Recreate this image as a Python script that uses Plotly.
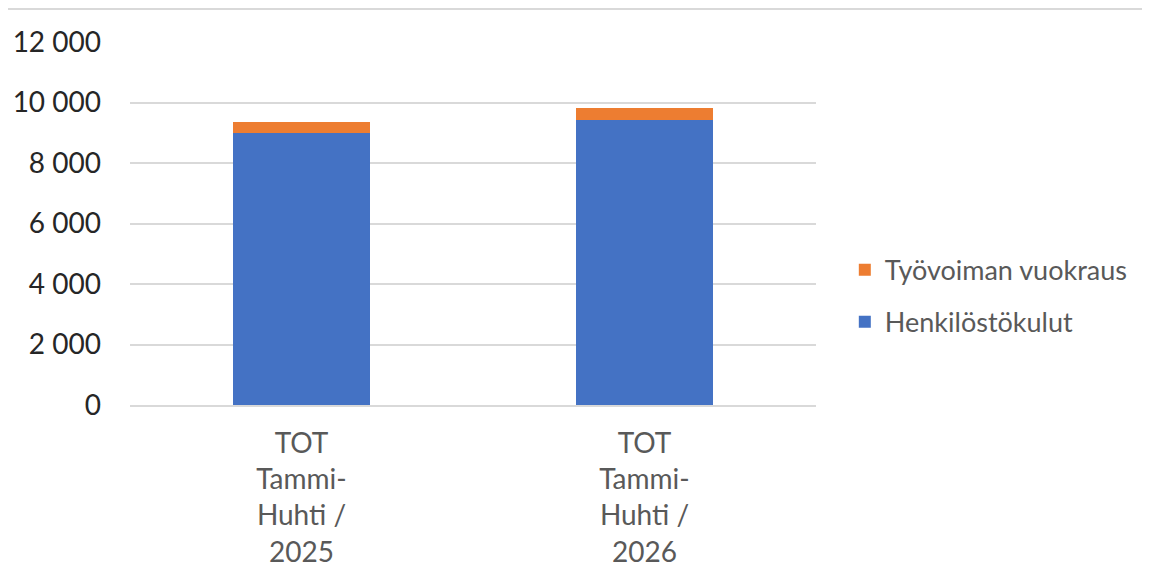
import plotly.graph_objects as go

categories = ["TOT<br>Tammi-<br>Huhti /<br>2025", "TOT<br>Tammi-<br>Huhti /<br>2026"]
henkilostokulut = [8980, 9430]
tyovoiman_vuokraus = [365, 390]
y_ticks = [0, 2000, 4000, 6000, 8000, 10000, 12000]
y_tick_labels = ["0", "2 000", "4 000", "6 000", "8 000", "10 000", "12 000"]

FONT = "Lato, Carlito, Calibri, sans-serif"

fig = go.Figure()
fig.add_trace(go.Bar(x=categories, y=henkilostokulut, name="Henkilöstökulut",
                     marker=dict(color="#4472C4", line=dict(width=0)),
                     legendgroup="g2", legendrank=2))
fig.add_trace(go.Bar(x=categories, y=tyovoiman_vuokraus, name="Työvoiman vuokraus",
                     marker=dict(color="#ED7D31", line=dict(width=0)),
                     legendgroup="g1", legendrank=1))

fig.update_layout(
    width=1142, height=571,
    margin=dict(l=122, r=334, t=34, b=174, autoexpand=False),
    barmode="stack", bargap=0.6,
    plot_bgcolor="white", paper_bgcolor="white",
    font=dict(family=FONT, size=28, color="#595959"),
    legend=dict(x=1.042, y=0.30, yanchor="middle", xanchor="left",
                traceorder="grouped", tracegroupgap=14,
                font=dict(size=27, color="#595959"), itemwidth=30),
    showlegend=True,
    xaxis=dict(showgrid=False, showline=True, linecolor="#D9D9D9", linewidth=2,
               ticks="", ticklabelstandoff=12, automargin=False,
               tickfont=dict(size=28, color="#595959")),
    yaxis=dict(range=[0, 12000], tickvals=y_ticks, ticktext=y_tick_labels,
               showgrid=True, gridcolor="#D9D9D9", gridwidth=2, zeroline=False,
               showline=False, ticks="", ticklabelstandoff=28, automargin=False,
               tickfont=dict(size=28, color="#262626")),
    shapes=[dict(type="line", xref="paper", yref="paper",
                 x0=-122/686, x1=1020/686, y0=396/363, y1=396/363,
                 line=dict(color="#D9D9D9", width=2))],
)
fig.write_html("out.html")
